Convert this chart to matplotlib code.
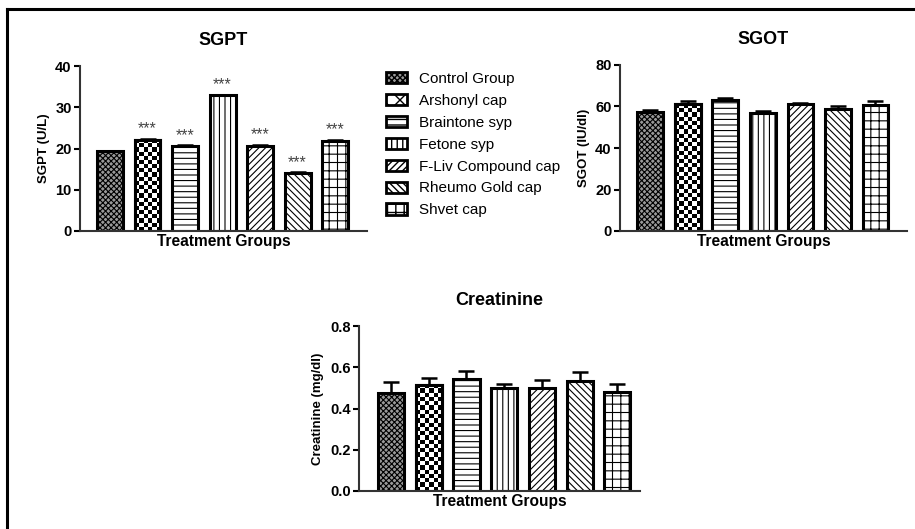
import numpy as np
import matplotlib
matplotlib.use("Agg")
import matplotlib.pyplot as plt
from matplotlib.patches import Patch
from matplotlib.lines import Line2D

plt.rcParams["font.family"] = ["Liberation Sans", "DejaVu Sans"]

groups = ["Control Group", "Arshonyl cap", "Braintone syp", "Fetone syp",
          "F-Liv Compound cap", "Rheumo Gold cap", "Shvet cap"]

sgpt = [19.3, 22.1, 20.6, 32.9, 20.6, 14.0, 21.9]
sgpt_err = [0.15, 0.2, 0.2, 0.15, 0.3, 0.2, 0.2]
sgpt_sig = ["", "***", "***", "***", "***", "***", "***"]

sgot = [57.5, 61.0, 63.0, 57.0, 61.3, 59.0, 60.7]
sgot_err = [0.9, 1.8, 0.9, 1.0, 0.5, 1.0, 2.0]

creat = [0.475, 0.515, 0.545, 0.497, 0.497, 0.535, 0.482]
creat_err = [0.052, 0.035, 0.038, 0.022, 0.042, 0.04, 0.035]

# fill, hatch per group (None -> checkerboard image)
styles = [("#9a9a9a", "xxxxxx"), ("white", None), ("white", "---"),
          ("white", "|||"), ("white", "/////"), ("white", "\\\\\\\\\\"),
          ("white", "++")]

W, H = 915, 529
fig = plt.figure(figsize=(W / 100, H / 100), dpi=100)


def px_axes(x0, x1, ytop, ybot):
    return fig.add_axes([x0 / W, 1 - ybot / H, (x1 - x0) / W, (ybot - ytop) / H])


def checker(ax, patch, x0, x1, top, ymax, cell_px=4.2):
    # axes are 165 px tall; bar 0.69 units ~ 26 px wide
    nx = max(1, int(round(26 / cell_px)))
    ny = max(1, int(round(top / ymax * 165 / cell_px)))
    grid = (np.add.outer(np.arange(ny), np.arange(nx)) % 2).astype(float)
    im = ax.imshow(grid, cmap="gray", vmin=0, vmax=1, extent=(x0, x1, 0, top),
                   aspect="auto", interpolation="nearest", zorder=2.1)
    im.set_clip_path(patch)


def panel(ax, vals, errs, ymax, step, title, ylabel, xlim, fmt):
    x = np.arange(len(vals))
    w = 0.69
    for i, (v, e) in enumerate(zip(vals, errs)):
        fc, h = styles[i]
        b = ax.bar(x[i], v, width=w, color=fc, edgecolor="black",
                   linewidth=2.2, hatch=h, zorder=2)
        for p in b:
            if hasattr(p, "set_hatch_linewidth"):
                p.set_hatch_linewidth(0.8)
        if h is None:
            checker(ax, b[0], x[i] - w / 2, x[i] + w / 2, v, ymax)
            ax.bar(x[i], v, width=w, color="none", edgecolor="black",
                   linewidth=2.2, zorder=2.2)
        ax.errorbar(x[i], v, yerr=[[0], [e]], fmt="none", ecolor="black",
                    elinewidth=1.8, capsize=5.5, capthick=1.8, zorder=3)
    ax.set_xlim(*xlim)
    ax.set_ylim(0, ymax)
    ax.set_yticks(np.arange(0, ymax + step / 2, step))
    ax.yaxis.set_major_formatter(plt.FormatStrFormatter(fmt))
    ax.set_xticks([])
    for s in ["top", "right"]:
        ax.spines[s].set_visible(False)
    for s in ["left", "bottom"]:
        ax.spines[s].set_linewidth(1.5)
        ax.spines[s].set_color("#333333")
    ax.tick_params(axis="y", length=4, width=1.5, labelsize=10.5, pad=2)
    for t in ax.get_yticklabels():
        t.set_fontweight("bold")
    ax.set_title(title, fontsize=13, fontweight="bold", pad=15)
    ax.set_ylabel(ylabel, fontsize=9.5, fontweight="bold", labelpad=4)
    ax.set_xlabel("Treatment Groups", fontsize=11.2, fontweight="bold", labelpad=2)
    return x


ax1 = px_axes(80, 367, 66, 231)
x = panel(ax1, sgpt, sgpt_err, 40, 10, "SGPT", "SGPT (U/L)", (-0.8, 6.85), "%d")
for xi, v, e, s in zip(x, sgpt, sgpt_err, sgpt_sig):
    if s:
        ax1.text(xi, v + e + 0.6, s, ha="center", va="bottom", fontsize=11.5,
                 color="#444444")

ax2 = px_axes(620, 907, 65, 231)
panel(ax2, sgot, sgot_err, 80, 20, "SGOT", "SGOT (IU/dl)", (-0.81, 6.84), "%d")

ax3 = px_axes(359, 640, 326, 491)
panel(ax3, creat, creat_err, 0.8, 0.2, "Creatinine", "Creatinine (mg/dl)",
      (-0.85, 6.6), "%.1f")

handles = [Patch(facecolor=fc, edgecolor="black", hatch=(h or "xx"), linewidth=2)
           for fc, h in styles]
fig.legend(handles, groups, loc="upper left", bbox_to_anchor=(372 / W, 1 - 58 / H),
           frameon=False, fontsize=11, handlelength=1.4, handleheight=0.75,
           labelspacing=0.52, handletextpad=0.8)

# border on top and left only
fig.add_artist(Line2D([7 / W, 914 / W], [1 - 9 / H, 1 - 9 / H], color="black",
                      linewidth=2.2, transform=fig.transFigure))
fig.add_artist(Line2D([7 / W, 7 / W], [1 - 9 / H, 0], color="black",
                      linewidth=2.2, transform=fig.transFigure))

fig.savefig("out.png", dpi=100, facecolor="white")
